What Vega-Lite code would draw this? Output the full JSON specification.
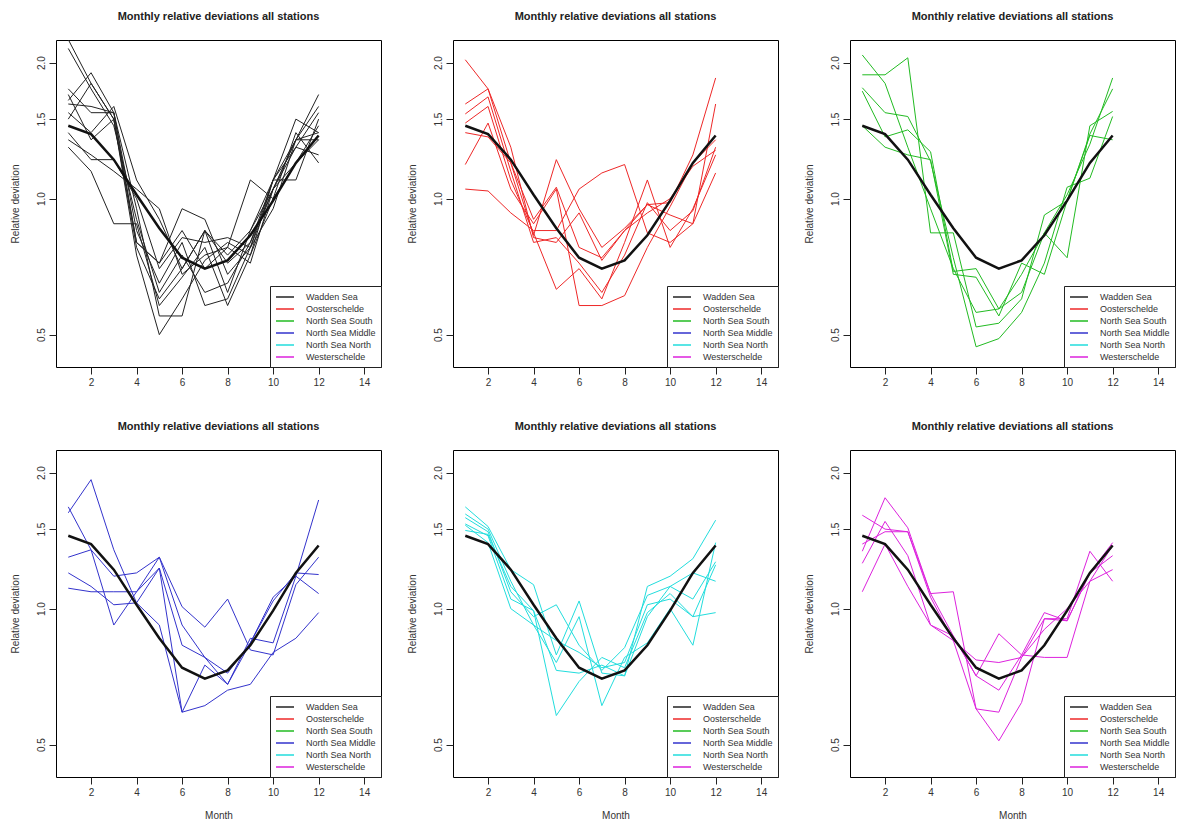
{
"$schema": "https://vega.github.io/schema/vega-lite/v6.json",
"padding": {"left": 9, "top": 10, "right": 5, "bottom": 2},
"background": "white",
"config": {
  "view": {"stroke": "black", "strokeWidth": 1},
  "font": "Liberation Sans",
  "axis": {"domain": false, "grid": false, "tickColor": "#222", "tickSize": 7, "labelFont": "Liberation Sans", "labelFontSize": 10, "labelColor": "#333", "labelPadding": 3, "titleFont": "Liberation Sans", "titleFontSize": 10, "titleFontWeight": "normal", "titleColor": "#333"},
  "title": {"font": "Liberation Sans", "fontSize": 11, "fontWeight": "bold", "anchor": "middle", "frame": "group", "offset": 18, "color": "#222"},
  "legend": {"title": null, "orient": "bottom-right", "offset": 0, "strokeColor": "#222", "fillColor": "white", "padding": 5, "symbolType": "M-1,0H2.6", "symbolStrokeWidth": 1.5, "symbolSize": 100, "labelFont": "Liberation Sans", "labelFontSize": 9, "labelColor": "#333", "rowPadding": 1, "labelOffset": 19}
},
"datasets": {
"mean": [
{"month":1,"value":1.45},{"month":2,"value":1.39},{"month":3,"value":1.22},{"month":4,"value":1.02},{"month":5,"value":0.86},{"month":6,"value":0.74},{"month":7,"value":0.70},{"month":8,"value":0.73},{"month":9,"value":0.83},{"month":10,"value":0.99},{"month":11,"value":1.2},{"month":12,"value":1.38}
],
"stations": [
{"region":"Wadden Sea","station":"W1","month":1,"value":2.15},{"region":"Wadden Sea","station":"W1","month":2,"value":1.75},{"region":"Wadden Sea","station":"W1","month":3,"value":1.45},{"region":"Wadden Sea","station":"W1","month":4,"value":0.9},{"region":"Wadden Sea","station":"W1","month":5,"value":0.62},{"region":"Wadden Sea","station":"W1","month":6,"value":0.75},{"region":"Wadden Sea","station":"W1","month":7,"value":0.62},{"region":"Wadden Sea","station":"W1","month":8,"value":0.65},{"region":"Wadden Sea","station":"W1","month":9,"value":0.8},{"region":"Wadden Sea","station":"W1","month":10,"value":1.05},{"region":"Wadden Sea","station":"W1","month":11,"value":1.3},{"region":"Wadden Sea","station":"W1","month":12,"value":1.55},
{"region":"Wadden Sea","station":"W2","month":1,"value":2.25},{"region":"Wadden Sea","station":"W2","month":2,"value":1.8},{"region":"Wadden Sea","station":"W2","month":3,"value":1.5},{"region":"Wadden Sea","station":"W2","month":4,"value":0.75},{"region":"Wadden Sea","station":"W2","month":5,"value":0.5},{"region":"Wadden Sea","station":"W2","month":6,"value":0.6},{"region":"Wadden Sea","station":"W2","month":7,"value":0.73},{"region":"Wadden Sea","station":"W2","month":8,"value":0.8},{"region":"Wadden Sea","station":"W2","month":9,"value":0.75},{"region":"Wadden Sea","station":"W2","month":10,"value":1.1},{"region":"Wadden Sea","station":"W2","month":11,"value":1.35},{"region":"Wadden Sea","station":"W2","month":12,"value":1.6},
{"region":"Wadden Sea","station":"W3","month":1,"value":1.75},{"region":"Wadden Sea","station":"W3","month":2,"value":1.55},{"region":"Wadden Sea","station":"W3","month":3,"value":1.55},{"region":"Wadden Sea","station":"W3","month":4,"value":0.95},{"region":"Wadden Sea","station":"W3","month":5,"value":0.55},{"region":"Wadden Sea","station":"W3","month":6,"value":0.55},{"region":"Wadden Sea","station":"W3","month":7,"value":0.85},{"region":"Wadden Sea","station":"W3","month":8,"value":0.62},{"region":"Wadden Sea","station":"W3","month":9,"value":0.85},{"region":"Wadden Sea","station":"W3","month":10,"value":1.05},{"region":"Wadden Sea","station":"W3","month":11,"value":1.35},{"region":"Wadden Sea","station":"W3","month":12,"value":1.7},
{"region":"Wadden Sea","station":"W4","month":1,"value":1.65},{"region":"Wadden Sea","station":"W4","month":2,"value":1.9},{"region":"Wadden Sea","station":"W4","month":3,"value":1.55},{"region":"Wadden Sea","station":"W4","month":4,"value":0.8},{"region":"Wadden Sea","station":"W4","month":5,"value":0.72},{"region":"Wadden Sea","station":"W4","month":6,"value":0.85},{"region":"Wadden Sea","station":"W4","month":7,"value":0.7},{"region":"Wadden Sea","station":"W4","month":8,"value":0.78},{"region":"Wadden Sea","station":"W4","month":9,"value":1.1},{"region":"Wadden Sea","station":"W4","month":10,"value":1.0},{"region":"Wadden Sea","station":"W4","month":11,"value":1.2},{"region":"Wadden Sea","station":"W4","month":12,"value":1.45},
{"region":"Wadden Sea","station":"W5","month":1,"value":1.55},{"region":"Wadden Sea","station":"W5","month":2,"value":1.4},{"region":"Wadden Sea","station":"W5","month":3,"value":1.6},{"region":"Wadden Sea","station":"W5","month":4,"value":1.1},{"region":"Wadden Sea","station":"W5","month":5,"value":0.9},{"region":"Wadden Sea","station":"W5","month":6,"value":0.7},{"region":"Wadden Sea","station":"W5","month":7,"value":0.85},{"region":"Wadden Sea","station":"W5","month":8,"value":0.72},{"region":"Wadden Sea","station":"W5","month":9,"value":0.8},{"region":"Wadden Sea","station":"W5","month":10,"value":1.1},{"region":"Wadden Sea","station":"W5","month":11,"value":1.5},{"region":"Wadden Sea","station":"W5","month":12,"value":1.4},
{"region":"Wadden Sea","station":"W6","month":1,"value":1.5},{"region":"Wadden Sea","station":"W6","month":2,"value":1.8},{"region":"Wadden Sea","station":"W6","month":3,"value":1.5},{"region":"Wadden Sea","station":"W6","month":4,"value":0.8},{"region":"Wadden Sea","station":"W6","month":5,"value":0.72},{"region":"Wadden Sea","station":"W6","month":6,"value":0.95},{"region":"Wadden Sea","station":"W6","month":7,"value":0.9},{"region":"Wadden Sea","station":"W6","month":8,"value":0.68},{"region":"Wadden Sea","station":"W6","month":9,"value":0.78},{"region":"Wadden Sea","station":"W6","month":10,"value":1.05},{"region":"Wadden Sea","station":"W6","month":11,"value":1.2},{"region":"Wadden Sea","station":"W6","month":12,"value":1.35},
{"region":"Wadden Sea","station":"W7","month":1,"value":1.4},{"region":"Wadden Sea","station":"W7","month":2,"value":1.22},{"region":"Wadden Sea","station":"W7","month":3,"value":1.22},{"region":"Wadden Sea","station":"W7","month":4,"value":1.0},{"region":"Wadden Sea","station":"W7","month":5,"value":0.7},{"region":"Wadden Sea","station":"W7","month":6,"value":0.82},{"region":"Wadden Sea","station":"W7","month":7,"value":0.8},{"region":"Wadden Sea","station":"W7","month":8,"value":0.82},{"region":"Wadden Sea","station":"W7","month":9,"value":0.78},{"region":"Wadden Sea","station":"W7","month":10,"value":1.1},{"region":"Wadden Sea","station":"W7","month":11,"value":1.1},{"region":"Wadden Sea","station":"W7","month":12,"value":1.5},
{"region":"Wadden Sea","station":"W8","month":1,"value":1.3},{"region":"Wadden Sea","station":"W8","month":2,"value":1.15},{"region":"Wadden Sea","station":"W8","month":3,"value":0.88},{"region":"Wadden Sea","station":"W8","month":4,"value":0.88},{"region":"Wadden Sea","station":"W8","month":5,"value":0.58},{"region":"Wadden Sea","station":"W8","month":6,"value":0.67},{"region":"Wadden Sea","station":"W8","month":7,"value":0.78},{"region":"Wadden Sea","station":"W8","month":8,"value":0.58},{"region":"Wadden Sea","station":"W8","month":9,"value":0.75},{"region":"Wadden Sea","station":"W8","month":10,"value":1.0},{"region":"Wadden Sea","station":"W8","month":11,"value":1.4},{"region":"Wadden Sea","station":"W8","month":12,"value":1.2},
{"region":"Wadden Sea","station":"W9","month":1,"value":1.62},{"region":"Wadden Sea","station":"W9","month":2,"value":1.6},{"region":"Wadden Sea","station":"W9","month":3,"value":1.55},{"region":"Wadden Sea","station":"W9","month":4,"value":0.85},{"region":"Wadden Sea","station":"W9","month":5,"value":0.65},{"region":"Wadden Sea","station":"W9","month":6,"value":0.8},{"region":"Wadden Sea","station":"W9","month":7,"value":0.58},{"region":"Wadden Sea","station":"W9","month":8,"value":0.6},{"region":"Wadden Sea","station":"W9","month":9,"value":0.78},{"region":"Wadden Sea","station":"W9","month":10,"value":0.95},{"region":"Wadden Sea","station":"W9","month":11,"value":1.35},{"region":"Wadden Sea","station":"W9","month":12,"value":1.35},
{"region":"Wadden Sea","station":"W10","month":1,"value":1.7},{"region":"Wadden Sea","station":"W10","month":2,"value":1.35},{"region":"Wadden Sea","station":"W10","month":3,"value":1.5},{"region":"Wadden Sea","station":"W10","month":4,"value":0.78},{"region":"Wadden Sea","station":"W10","month":5,"value":0.6},{"region":"Wadden Sea","station":"W10","month":6,"value":0.7},{"region":"Wadden Sea","station":"W10","month":7,"value":0.85},{"region":"Wadden Sea","station":"W10","month":8,"value":0.75},{"region":"Wadden Sea","station":"W10","month":9,"value":0.85},{"region":"Wadden Sea","station":"W10","month":10,"value":1.1},{"region":"Wadden Sea","station":"W10","month":11,"value":1.3},{"region":"Wadden Sea","station":"W10","month":12,"value":1.25},
{"region":"Wadden Sea","station":"W11","month":1,"value":1.35},{"region":"Wadden Sea","station":"W11","month":2,"value":1.25},{"region":"Wadden Sea","station":"W11","month":3,"value":1.15},{"region":"Wadden Sea","station":"W11","month":4,"value":1.05},{"region":"Wadden Sea","station":"W11","month":5,"value":0.95},{"region":"Wadden Sea","station":"W11","month":6,"value":0.68},{"region":"Wadden Sea","station":"W11","month":7,"value":0.75},{"region":"Wadden Sea","station":"W11","month":8,"value":0.78},{"region":"Wadden Sea","station":"W11","month":9,"value":0.72},{"region":"Wadden Sea","station":"W11","month":10,"value":1.05},{"region":"Wadden Sea","station":"W11","month":11,"value":1.35},{"region":"Wadden Sea","station":"W11","month":12,"value":1.4},
{"region":"Oosterschelde","station":"O1","month":1,"value":2.03},{"region":"Oosterschelde","station":"O1","month":2,"value":1.75},{"region":"Oosterschelde","station":"O1","month":3,"value":1.3},{"region":"Oosterschelde","station":"O1","month":4,"value":0.82},{"region":"Oosterschelde","station":"O1","month":5,"value":0.8},{"region":"Oosterschelde","station":"O1","month":6,"value":0.93},{"region":"Oosterschelde","station":"O1","month":7,"value":0.73},{"region":"Oosterschelde","station":"O1","month":8,"value":0.85},{"region":"Oosterschelde","station":"O1","month":9,"value":0.97},{"region":"Oosterschelde","station":"O1","month":10,"value":0.98},{"region":"Oosterschelde","station":"O1","month":11,"value":1.25},{"region":"Oosterschelde","station":"O1","month":12,"value":1.85},
{"region":"Oosterschelde","station":"O2","month":1,"value":1.62},{"region":"Oosterschelde","station":"O2","month":2,"value":1.75},{"region":"Oosterschelde","station":"O2","month":3,"value":1.2},{"region":"Oosterschelde","station":"O2","month":4,"value":0.83},{"region":"Oosterschelde","station":"O2","month":5,"value":1.22},{"region":"Oosterschelde","station":"O2","month":6,"value":0.95},{"region":"Oosterschelde","station":"O2","month":7,"value":0.78},{"region":"Oosterschelde","station":"O2","month":8,"value":0.86},{"region":"Oosterschelde","station":"O2","month":9,"value":0.97},{"region":"Oosterschelde","station":"O2","month":10,"value":0.92},{"region":"Oosterschelde","station":"O2","month":11,"value":0.88},{"region":"Oosterschelde","station":"O2","month":12,"value":1.62},
{"region":"Oosterschelde","station":"O3","month":1,"value":1.54},{"region":"Oosterschelde","station":"O3","month":2,"value":1.68},{"region":"Oosterschelde","station":"O3","month":3,"value":1.15},{"region":"Oosterschelde","station":"O3","month":4,"value":0.8},{"region":"Oosterschelde","station":"O3","month":5,"value":0.82},{"region":"Oosterschelde","station":"O3","month":6,"value":0.72},{"region":"Oosterschelde","station":"O3","month":7,"value":0.62},{"region":"Oosterschelde","station":"O3","month":8,"value":0.75},{"region":"Oosterschelde","station":"O3","month":9,"value":0.98},{"region":"Oosterschelde","station":"O3","month":10,"value":0.85},{"region":"Oosterschelde","station":"O3","month":11,"value":0.94},{"region":"Oosterschelde","station":"O3","month":12,"value":1.3},
{"region":"Oosterschelde","station":"O4","month":1,"value":1.47},{"region":"Oosterschelde","station":"O4","month":2,"value":1.6},{"region":"Oosterschelde","station":"O4","month":3,"value":1.1},{"region":"Oosterschelde","station":"O4","month":4,"value":0.84},{"region":"Oosterschelde","station":"O4","month":5,"value":0.63},{"region":"Oosterschelde","station":"O4","month":6,"value":0.7},{"region":"Oosterschelde","station":"O4","month":7,"value":0.6},{"region":"Oosterschelde","station":"O4","month":8,"value":0.8},{"region":"Oosterschelde","station":"O4","month":9,"value":1.1},{"region":"Oosterschelde","station":"O4","month":10,"value":0.78},{"region":"Oosterschelde","station":"O4","month":11,"value":0.95},{"region":"Oosterschelde","station":"O4","month":12,"value":1.25},
{"region":"Oosterschelde","station":"O5","month":1,"value":1.19},{"region":"Oosterschelde","station":"O5","month":2,"value":1.47},{"region":"Oosterschelde","station":"O5","month":3,"value":1.05},{"region":"Oosterschelde","station":"O5","month":4,"value":0.88},{"region":"Oosterschelde","station":"O5","month":5,"value":1.05},{"region":"Oosterschelde","station":"O5","month":6,"value":0.58},{"region":"Oosterschelde","station":"O5","month":7,"value":0.58},{"region":"Oosterschelde","station":"O5","month":8,"value":0.61},{"region":"Oosterschelde","station":"O5","month":9,"value":0.78},{"region":"Oosterschelde","station":"O5","month":10,"value":0.96},{"region":"Oosterschelde","station":"O5","month":11,"value":1.2},{"region":"Oosterschelde","station":"O5","month":12,"value":1.35},
{"region":"Oosterschelde","station":"O6","month":1,"value":1.05},{"region":"Oosterschelde","station":"O6","month":2,"value":1.04},{"region":"Oosterschelde","station":"O6","month":3,"value":0.93},{"region":"Oosterschelde","station":"O6","month":4,"value":0.85},{"region":"Oosterschelde","station":"O6","month":5,"value":0.85},{"region":"Oosterschelde","station":"O6","month":6,"value":1.05},{"region":"Oosterschelde","station":"O6","month":7,"value":1.14},{"region":"Oosterschelde","station":"O6","month":8,"value":1.19},{"region":"Oosterschelde","station":"O6","month":9,"value":0.84},{"region":"Oosterschelde","station":"O6","month":10,"value":0.8},{"region":"Oosterschelde","station":"O6","month":11,"value":0.88},{"region":"Oosterschelde","station":"O6","month":12,"value":1.14},
{"region":"Oosterschelde","station":"O7","month":1,"value":1.4},{"region":"Oosterschelde","station":"O7","month":2,"value":1.37},{"region":"Oosterschelde","station":"O7","month":3,"value":1.2},{"region":"Oosterschelde","station":"O7","month":4,"value":0.9},{"region":"Oosterschelde","station":"O7","month":5,"value":1.06},{"region":"Oosterschelde","station":"O7","month":6,"value":0.78},{"region":"Oosterschelde","station":"O7","month":7,"value":0.74},{"region":"Oosterschelde","station":"O7","month":8,"value":0.85},{"region":"Oosterschelde","station":"O7","month":9,"value":0.93},{"region":"Oosterschelde","station":"O7","month":10,"value":1.0},{"region":"Oosterschelde","station":"O7","month":11,"value":1.18},{"region":"Oosterschelde","station":"O7","month":12,"value":1.28},
{"region":"North Sea South","station":"S1","month":1,"value":2.08},{"region":"North Sea South","station":"S1","month":2,"value":1.8},{"region":"North Sea South","station":"S1","month":3,"value":1.3},{"region":"North Sea South","station":"S1","month":4,"value":0.95},{"region":"North Sea South","station":"S1","month":5,"value":0.7},{"region":"North Sea South","station":"S1","month":6,"value":0.56},{"region":"North Sea South","station":"S1","month":7,"value":0.57},{"region":"North Sea South","station":"S1","month":8,"value":0.68},{"region":"North Sea South","station":"S1","month":9,"value":0.84},{"region":"North Sea South","station":"S1","month":10,"value":1.02},{"region":"North Sea South","station":"S1","month":11,"value":1.32},{"region":"North Sea South","station":"S1","month":12,"value":1.85},
{"region":"North Sea South","station":"S2","month":1,"value":1.88},{"region":"North Sea South","station":"S2","month":2,"value":1.88},{"region":"North Sea South","station":"S2","month":3,"value":2.05},{"region":"North Sea South","station":"S2","month":4,"value":0.84},{"region":"North Sea South","station":"S2","month":5,"value":0.84},{"region":"North Sea South","station":"S2","month":6,"value":0.52},{"region":"North Sea South","station":"S2","month":7,"value":0.53},{"region":"North Sea South","station":"S2","month":8,"value":0.6},{"region":"North Sea South","station":"S2","month":9,"value":0.92},{"region":"North Sea South","station":"S2","month":10,"value":0.99},{"region":"North Sea South","station":"S2","month":11,"value":1.39},{"region":"North Sea South","station":"S2","month":12,"value":1.75},
{"region":"North Sea South","station":"S3","month":1,"value":1.76},{"region":"North Sea South","station":"S3","month":2,"value":1.55},{"region":"North Sea South","station":"S3","month":3,"value":1.52},{"region":"North Sea South","station":"S3","month":4,"value":1.21},{"region":"North Sea South","station":"S3","month":5,"value":0.74},{"region":"North Sea South","station":"S3","month":6,"value":0.47},{"region":"North Sea South","station":"S3","month":7,"value":0.49},{"region":"North Sea South","station":"S3","month":8,"value":0.56},{"region":"North Sea South","station":"S3","month":9,"value":0.72},{"region":"North Sea South","station":"S3","month":10,"value":1.06},{"region":"North Sea South","station":"S3","month":11,"value":1.11},{"region":"North Sea South","station":"S3","month":12,"value":1.52},
{"region":"North Sea South","station":"S4","month":1,"value":1.73},{"region":"North Sea South","station":"S4","month":2,"value":1.37},{"region":"North Sea South","station":"S4","month":3,"value":1.42},{"region":"North Sea South","station":"S4","month":4,"value":1.27},{"region":"North Sea South","station":"S4","month":5,"value":0.69},{"region":"North Sea South","station":"S4","month":6,"value":0.7},{"region":"North Sea South","station":"S4","month":7,"value":0.57},{"region":"North Sea South","station":"S4","month":8,"value":0.62},{"region":"North Sea South","station":"S4","month":9,"value":0.84},{"region":"North Sea South","station":"S4","month":10,"value":0.74},{"region":"North Sea South","station":"S4","month":11,"value":1.45},{"region":"North Sea South","station":"S4","month":12,"value":1.56},
{"region":"North Sea South","station":"S5","month":1,"value":1.45},{"region":"North Sea South","station":"S5","month":2,"value":1.3},{"region":"North Sea South","station":"S5","month":3,"value":1.25},{"region":"North Sea South","station":"S5","month":4,"value":1.22},{"region":"North Sea South","station":"S5","month":5,"value":0.68},{"region":"North Sea South","station":"S5","month":6,"value":0.67},{"region":"North Sea South","station":"S5","month":7,"value":0.55},{"region":"North Sea South","station":"S5","month":8,"value":0.72},{"region":"North Sea South","station":"S5","month":9,"value":0.68},{"region":"North Sea South","station":"S5","month":10,"value":0.99},{"region":"North Sea South","station":"S5","month":11,"value":1.38},{"region":"North Sea South","station":"S5","month":12,"value":1.35},
{"region":"North Sea Middle","station":"M1","month":1,"value":1.68},{"region":"North Sea Middle","station":"M1","month":2,"value":1.35},{"region":"North Sea Middle","station":"M1","month":3,"value":1.18},{"region":"North Sea Middle","station":"M1","month":4,"value":1.2},{"region":"North Sea Middle","station":"M1","month":5,"value":1.3},{"region":"North Sea Middle","station":"M1","month":6,"value":0.92},{"region":"North Sea Middle","station":"M1","month":7,"value":0.78},{"region":"North Sea Middle","station":"M1","month":8,"value":0.72},{"region":"North Sea Middle","station":"M1","month":9,"value":0.84},{"region":"North Sea Middle","station":"M1","month":10,"value":1.06},{"region":"North Sea Middle","station":"M1","month":11,"value":1.18},{"region":"North Sea Middle","station":"M1","month":12,"value":1.74},
{"region":"North Sea Middle","station":"M2","month":1,"value":1.63},{"region":"North Sea Middle","station":"M2","month":2,"value":1.93},{"region":"North Sea Middle","station":"M2","month":3,"value":1.35},{"region":"North Sea Middle","station":"M2","month":4,"value":1.03},{"region":"North Sea Middle","station":"M2","month":5,"value":0.92},{"region":"North Sea Middle","station":"M2","month":6,"value":0.59},{"region":"North Sea Middle","station":"M2","month":7,"value":0.75},{"region":"North Sea Middle","station":"M2","month":8,"value":0.68},{"region":"North Sea Middle","station":"M2","month":9,"value":0.84},{"region":"North Sea Middle","station":"M2","month":10,"value":1.04},{"region":"North Sea Middle","station":"M2","month":11,"value":1.2},{"region":"North Sea Middle","station":"M2","month":12,"value":1.19},
{"region":"North Sea Middle","station":"M3","month":1,"value":1.3},{"region":"North Sea Middle","station":"M3","month":2,"value":1.35},{"region":"North Sea Middle","station":"M3","month":3,"value":0.92},{"region":"North Sea Middle","station":"M3","month":4,"value":1.09},{"region":"North Sea Middle","station":"M3","month":5,"value":1.23},{"region":"North Sea Middle","station":"M3","month":6,"value":0.59},{"region":"North Sea Middle","station":"M3","month":7,"value":0.61},{"region":"North Sea Middle","station":"M3","month":8,"value":0.66},{"region":"North Sea Middle","station":"M3","month":9,"value":0.68},{"region":"North Sea Middle","station":"M3","month":10,"value":0.8},{"region":"North Sea Middle","station":"M3","month":11,"value":0.86},{"region":"North Sea Middle","station":"M3","month":12,"value":0.98},
{"region":"North Sea Middle","station":"M4","month":1,"value":1.2},{"region":"North Sea Middle","station":"M4","month":2,"value":1.12},{"region":"North Sea Middle","station":"M4","month":3,"value":1.02},{"region":"North Sea Middle","station":"M4","month":4,"value":1.03},{"region":"North Sea Middle","station":"M4","month":5,"value":1.23},{"region":"North Sea Middle","station":"M4","month":6,"value":0.83},{"region":"North Sea Middle","station":"M4","month":7,"value":0.78},{"region":"North Sea Middle","station":"M4","month":8,"value":0.68},{"region":"North Sea Middle","station":"M4","month":9,"value":0.86},{"region":"North Sea Middle","station":"M4","month":10,"value":0.84},{"region":"North Sea Middle","station":"M4","month":11,"value":1.18},{"region":"North Sea Middle","station":"M4","month":12,"value":1.08},
{"region":"North Sea Middle","station":"M5","month":1,"value":1.11},{"region":"North Sea Middle","station":"M5","month":2,"value":1.09},{"region":"North Sea Middle","station":"M5","month":3,"value":1.09},{"region":"North Sea Middle","station":"M5","month":4,"value":1.09},{"region":"North Sea Middle","station":"M5","month":5,"value":1.3},{"region":"North Sea Middle","station":"M5","month":6,"value":1.01},{"region":"North Sea Middle","station":"M5","month":7,"value":0.91},{"region":"North Sea Middle","station":"M5","month":8,"value":1.05},{"region":"North Sea Middle","station":"M5","month":9,"value":0.81},{"region":"North Sea Middle","station":"M5","month":10,"value":0.79},{"region":"North Sea Middle","station":"M5","month":11,"value":1.13},{"region":"North Sea Middle","station":"M5","month":12,"value":1.3},
{"region":"North Sea North","station":"N1","month":1,"value":1.68},{"region":"North Sea North","station":"N1","month":2,"value":1.52},{"region":"North Sea North","station":"N1","month":3,"value":1.22},{"region":"North Sea North","station":"N1","month":4,"value":1.13},{"region":"North Sea North","station":"N1","month":5,"value":0.79},{"region":"North Sea North","station":"N1","month":6,"value":1.04},{"region":"North Sea North","station":"N1","month":7,"value":0.72},{"region":"North Sea North","station":"N1","month":8,"value":0.71},{"region":"North Sea North","station":"N1","month":9,"value":1.12},{"region":"North Sea North","station":"N1","month":10,"value":1.18},{"region":"North Sea North","station":"N1","month":11,"value":1.29},{"region":"North Sea North","station":"N1","month":12,"value":1.57},
{"region":"North Sea North","station":"N2","month":1,"value":1.59},{"region":"North Sea North","station":"N2","month":2,"value":1.48},{"region":"North Sea North","station":"N2","month":3,"value":1.09},{"region":"North Sea North","station":"N2","month":4,"value":0.96},{"region":"North Sea North","station":"N2","month":5,"value":1.02},{"region":"North Sea North","station":"N2","month":6,"value":0.83},{"region":"North Sea North","station":"N2","month":7,"value":0.73},{"region":"North Sea North","station":"N2","month":8,"value":0.82},{"region":"North Sea North","station":"N2","month":9,"value":1.07},{"region":"North Sea North","station":"N2","month":10,"value":1.12},{"region":"North Sea North","station":"N2","month":11,"value":1.05},{"region":"North Sea North","station":"N2","month":12,"value":1.27},
{"region":"North Sea North","station":"N3","month":1,"value":1.54},{"region":"North Sea North","station":"N3","month":2,"value":1.45},{"region":"North Sea North","station":"N3","month":3,"value":1.05},{"region":"North Sea North","station":"N3","month":4,"value":0.99},{"region":"North Sea North","station":"N3","month":5,"value":0.58},{"region":"North Sea North","station":"N3","month":6,"value":0.69},{"region":"North Sea North","station":"N3","month":7,"value":0.78},{"region":"North Sea North","station":"N3","month":8,"value":0.74},{"region":"North Sea North","station":"N3","month":9,"value":0.98},{"region":"North Sea North","station":"N3","month":10,"value":1.08},{"region":"North Sea North","station":"N3","month":11,"value":0.96},{"region":"North Sea North","station":"N3","month":12,"value":0.98},
{"region":"North Sea North","station":"N4","month":1,"value":1.53},{"region":"North Sea North","station":"N4","month":2,"value":1.4},{"region":"North Sea North","station":"N4","month":3,"value":1.0},{"region":"North Sea North","station":"N4","month":4,"value":0.92},{"region":"North Sea North","station":"N4","month":5,"value":0.76},{"region":"North Sea North","station":"N4","month":6,"value":0.96},{"region":"North Sea North","station":"N4","month":7,"value":0.61},{"region":"North Sea North","station":"N4","month":8,"value":0.78},{"region":"North Sea North","station":"N4","month":9,"value":0.84},{"region":"North Sea North","station":"N4","month":10,"value":1.0},{"region":"North Sea North","station":"N4","month":11,"value":0.83},{"region":"North Sea North","station":"N4","month":12,"value":1.4},
{"region":"North Sea North","station":"N5","month":1,"value":1.49},{"region":"North Sea North","station":"N5","month":2,"value":1.46},{"region":"North Sea North","station":"N5","month":3,"value":1.12},{"region":"North Sea North","station":"N5","month":4,"value":0.99},{"region":"North Sea North","station":"N5","month":5,"value":0.73},{"region":"North Sea North","station":"N5","month":6,"value":0.72},{"region":"North Sea North","station":"N5","month":7,"value":0.75},{"region":"North Sea North","station":"N5","month":8,"value":0.71},{"region":"North Sea North","station":"N5","month":9,"value":0.96},{"region":"North Sea North","station":"N5","month":10,"value":1.12},{"region":"North Sea North","station":"N5","month":11,"value":1.2},{"region":"North Sea North","station":"N5","month":12,"value":1.15},
{"region":"North Sea North","station":"N6","month":1,"value":1.62},{"region":"North Sea North","station":"N6","month":2,"value":1.5},{"region":"North Sea North","station":"N6","month":3,"value":1.15},{"region":"North Sea North","station":"N6","month":4,"value":0.92},{"region":"North Sea North","station":"N6","month":5,"value":0.85},{"region":"North Sea North","station":"N6","month":6,"value":0.8},{"region":"North Sea North","station":"N6","month":7,"value":0.74},{"region":"North Sea North","station":"N6","month":8,"value":0.76},{"region":"North Sea North","station":"N6","month":9,"value":1.02},{"region":"North Sea North","station":"N6","month":10,"value":1.05},{"region":"North Sea North","station":"N6","month":11,"value":0.96},{"region":"North Sea North","station":"N6","month":12,"value":1.25},
{"region":"Westerschelde","station":"E1","month":1,"value":1.61},{"region":"Westerschelde","station":"E1","month":2,"value":1.5},{"region":"Westerschelde","station":"E1","month":3,"value":1.48},{"region":"Westerschelde","station":"E1","month":4,"value":1.08},{"region":"Westerschelde","station":"E1","month":5,"value":0.87},{"region":"Westerschelde","station":"E1","month":6,"value":0.71},{"region":"Westerschelde","station":"E1","month":7,"value":0.66},{"region":"Westerschelde","station":"E1","month":8,"value":0.79},{"region":"Westerschelde","station":"E1","month":9,"value":0.98},{"region":"Westerschelde","station":"E1","month":10,"value":0.94},{"region":"Westerschelde","station":"E1","month":11,"value":1.2},{"region":"Westerschelde","station":"E1","month":12,"value":1.4},
{"region":"Westerschelde","station":"E2","month":1,"value":1.34},{"region":"Westerschelde","station":"E2","month":2,"value":1.76},{"region":"Westerschelde","station":"E2","month":3,"value":1.51},{"region":"Westerschelde","station":"E2","month":4,"value":1.08},{"region":"Westerschelde","station":"E2","month":5,"value":1.09},{"region":"Westerschelde","station":"E2","month":6,"value":0.6},{"region":"Westerschelde","station":"E2","month":7,"value":0.59},{"region":"Westerschelde","station":"E2","month":8,"value":0.78},{"region":"Westerschelde","station":"E2","month":9,"value":0.95},{"region":"Westerschelde","station":"E2","month":10,"value":0.95},{"region":"Westerschelde","station":"E2","month":11,"value":1.34},{"region":"Westerschelde","station":"E2","month":12,"value":1.15},
{"region":"Westerschelde","station":"E3","month":1,"value":1.26},{"region":"Westerschelde","station":"E3","month":2,"value":1.56},{"region":"Westerschelde","station":"E3","month":3,"value":1.31},{"region":"Westerschelde","station":"E3","month":4,"value":0.92},{"region":"Westerschelde","station":"E3","month":5,"value":0.87},{"region":"Westerschelde","station":"E3","month":6,"value":0.71},{"region":"Westerschelde","station":"E3","month":7,"value":0.88},{"region":"Westerschelde","station":"E3","month":8,"value":0.79},{"region":"Westerschelde","station":"E3","month":9,"value":0.78},{"region":"Westerschelde","station":"E3","month":10,"value":0.78},{"region":"Westerschelde","station":"E3","month":11,"value":1.15},{"region":"Westerschelde","station":"E3","month":12,"value":1.22},
{"region":"Westerschelde","station":"E4","month":1,"value":1.09},{"region":"Westerschelde","station":"E4","month":2,"value":1.39},{"region":"Westerschelde","station":"E4","month":3,"value":1.12},{"region":"Westerschelde","station":"E4","month":4,"value":0.92},{"region":"Westerschelde","station":"E4","month":5,"value":0.85},{"region":"Westerschelde","station":"E4","month":6,"value":0.6},{"region":"Westerschelde","station":"E4","month":7,"value":0.51},{"region":"Westerschelde","station":"E4","month":8,"value":0.62},{"region":"Westerschelde","station":"E4","month":9,"value":0.95},{"region":"Westerschelde","station":"E4","month":10,"value":0.94},{"region":"Westerschelde","station":"E4","month":11,"value":1.2},{"region":"Westerschelde","station":"E4","month":12,"value":1.31},
{"region":"Westerschelde","station":"E5","month":1,"value":1.39},{"region":"Westerschelde","station":"E5","month":2,"value":1.48},{"region":"Westerschelde","station":"E5","month":3,"value":1.48},{"region":"Westerschelde","station":"E5","month":4,"value":1.06},{"region":"Westerschelde","station":"E5","month":5,"value":0.85},{"region":"Westerschelde","station":"E5","month":6,"value":0.77},{"region":"Westerschelde","station":"E5","month":7,"value":0.76},{"region":"Westerschelde","station":"E5","month":8,"value":0.78},{"region":"Westerschelde","station":"E5","month":9,"value":0.9},{"region":"Westerschelde","station":"E5","month":10,"value":1.0},{"region":"Westerschelde","station":"E5","month":11,"value":1.15},{"region":"Westerschelde","station":"E5","month":12,"value":1.38}
]
},
"columns": 3,
"bounds": "flush",
"spacing": {"row": 83, "column": 72},
"resolve": {"scale": {"color": "independent", "x": "independent", "y": "independent"}, "legend": {"color": "independent"}},
"concat": [
{"width": 325, "height": 327, "title": "Monthly relative deviations all stations",
 "layer": [
  {"data": {"name": "stations"}, "transform": [{"filter": "datum.region == 'Wadden Sea'"}],
   "mark": {"type": "line", "strokeWidth": 1, "clip": true},
   "encoding": {
    "x": {"field": "month", "type": "quantitative", "scale": {"domain": [0.46, 14.74], "nice": false, "zero": false}, "axis": {"values": [2,4,6,8,10,12,14], "title": null}},
    "y": {"field": "value", "type": "quantitative", "scale": {"type": "log", "domain": [0.424, 2.245], "nice": false}, "axis": {"values": [0.5,1,1.5,2], "format": ".1f", "labelAngle": -90, "labelAlign": "center", "labelBaseline": "bottom", "title": "Relative deviation", "titlePadding": 16}},
    "color": {"field": "region", "type": "nominal", "scale": {"domain": ["Wadden Sea","Oosterschelde","North Sea South","North Sea Middle","North Sea North","Westerschelde"], "range": ["#222222","#EE2828","#22BB22","#3333CC","#22DDDD","#DD22DD"]}},
    "detail": {"field": "station", "type": "nominal"}}},
  {"data": {"name": "mean"}, "mark": {"type": "line", "strokeWidth": 2.5, "color": "#111"},
   "encoding": {"x": {"field": "month", "type": "quantitative"}, "y": {"field": "value", "type": "quantitative"}}}
 ]},
{"width": 325, "height": 327, "title": "Monthly relative deviations all stations",
 "layer": [
  {"data": {"name": "stations"}, "transform": [{"filter": "datum.region == 'Oosterschelde'"}],
   "mark": {"type": "line", "strokeWidth": 1, "clip": true},
   "encoding": {
    "x": {"field": "month", "type": "quantitative", "scale": {"domain": [0.46, 14.74], "nice": false, "zero": false}, "axis": {"values": [2,4,6,8,10,12,14], "title": null}},
    "y": {"field": "value", "type": "quantitative", "scale": {"type": "log", "domain": [0.424, 2.245], "nice": false}, "axis": {"values": [0.5,1,1.5,2], "format": ".1f", "labelAngle": -90, "labelAlign": "center", "labelBaseline": "bottom", "title": "Relative deviation", "titlePadding": 16}},
    "color": {"field": "region", "type": "nominal", "scale": {"domain": ["Wadden Sea","Oosterschelde","North Sea South","North Sea Middle","North Sea North","Westerschelde"], "range": ["#222222","#EE2828","#22BB22","#3333CC","#22DDDD","#DD22DD"]}},
    "detail": {"field": "station", "type": "nominal"}}},
  {"data": {"name": "mean"}, "mark": {"type": "line", "strokeWidth": 2.5, "color": "#111"},
   "encoding": {"x": {"field": "month", "type": "quantitative"}, "y": {"field": "value", "type": "quantitative"}}}
 ]},
{"width": 325, "height": 327, "title": "Monthly relative deviations all stations",
 "layer": [
  {"data": {"name": "stations"}, "transform": [{"filter": "datum.region == 'North Sea South'"}],
   "mark": {"type": "line", "strokeWidth": 1, "clip": true},
   "encoding": {
    "x": {"field": "month", "type": "quantitative", "scale": {"domain": [0.46, 14.74], "nice": false, "zero": false}, "axis": {"values": [2,4,6,8,10,12,14], "title": null}},
    "y": {"field": "value", "type": "quantitative", "scale": {"type": "log", "domain": [0.424, 2.245], "nice": false}, "axis": {"values": [0.5,1,1.5,2], "format": ".1f", "labelAngle": -90, "labelAlign": "center", "labelBaseline": "bottom", "title": "Relative deviation", "titlePadding": 16}},
    "color": {"field": "region", "type": "nominal", "scale": {"domain": ["Wadden Sea","Oosterschelde","North Sea South","North Sea Middle","North Sea North","Westerschelde"], "range": ["#222222","#EE2828","#22BB22","#3333CC","#22DDDD","#DD22DD"]}},
    "detail": {"field": "station", "type": "nominal"}}},
  {"data": {"name": "mean"}, "mark": {"type": "line", "strokeWidth": 2.5, "color": "#111"},
   "encoding": {"x": {"field": "month", "type": "quantitative"}, "y": {"field": "value", "type": "quantitative"}}}
 ]},
{"width": 325, "height": 327, "title": "Monthly relative deviations all stations",
 "layer": [
  {"data": {"name": "stations"}, "transform": [{"filter": "datum.region == 'North Sea Middle'"}],
   "mark": {"type": "line", "strokeWidth": 1, "clip": true},
   "encoding": {
    "x": {"field": "month", "type": "quantitative", "scale": {"domain": [0.46, 14.74], "nice": false, "zero": false}, "axis": {"values": [2,4,6,8,10,12,14], "title": "Month", "titlePadding": 13}},
    "y": {"field": "value", "type": "quantitative", "scale": {"type": "log", "domain": [0.424, 2.245], "nice": false}, "axis": {"values": [0.5,1,1.5,2], "format": ".1f", "labelAngle": -90, "labelAlign": "center", "labelBaseline": "bottom", "title": "Relative deviation", "titlePadding": 16}},
    "color": {"field": "region", "type": "nominal", "scale": {"domain": ["Wadden Sea","Oosterschelde","North Sea South","North Sea Middle","North Sea North","Westerschelde"], "range": ["#222222","#EE2828","#22BB22","#3333CC","#22DDDD","#DD22DD"]}},
    "detail": {"field": "station", "type": "nominal"}}},
  {"data": {"name": "mean"}, "mark": {"type": "line", "strokeWidth": 2.5, "color": "#111"},
   "encoding": {"x": {"field": "month", "type": "quantitative"}, "y": {"field": "value", "type": "quantitative"}}}
 ]},
{"width": 325, "height": 327, "title": "Monthly relative deviations all stations",
 "layer": [
  {"data": {"name": "stations"}, "transform": [{"filter": "datum.region == 'North Sea North'"}],
   "mark": {"type": "line", "strokeWidth": 1, "clip": true},
   "encoding": {
    "x": {"field": "month", "type": "quantitative", "scale": {"domain": [0.46, 14.74], "nice": false, "zero": false}, "axis": {"values": [2,4,6,8,10,12,14], "title": "Month", "titlePadding": 13}},
    "y": {"field": "value", "type": "quantitative", "scale": {"type": "log", "domain": [0.424, 2.245], "nice": false}, "axis": {"values": [0.5,1,1.5,2], "format": ".1f", "labelAngle": -90, "labelAlign": "center", "labelBaseline": "bottom", "title": "Relative deviation", "titlePadding": 16}},
    "color": {"field": "region", "type": "nominal", "scale": {"domain": ["Wadden Sea","Oosterschelde","North Sea South","North Sea Middle","North Sea North","Westerschelde"], "range": ["#222222","#EE2828","#22BB22","#3333CC","#22DDDD","#DD22DD"]}},
    "detail": {"field": "station", "type": "nominal"}}},
  {"data": {"name": "mean"}, "mark": {"type": "line", "strokeWidth": 2.5, "color": "#111"},
   "encoding": {"x": {"field": "month", "type": "quantitative"}, "y": {"field": "value", "type": "quantitative"}}}
 ]},
{"width": 325, "height": 327, "title": "Monthly relative deviations all stations",
 "layer": [
  {"data": {"name": "stations"}, "transform": [{"filter": "datum.region == 'Westerschelde'"}],
   "mark": {"type": "line", "strokeWidth": 1, "clip": true},
   "encoding": {
    "x": {"field": "month", "type": "quantitative", "scale": {"domain": [0.46, 14.74], "nice": false, "zero": false}, "axis": {"values": [2,4,6,8,10,12,14], "title": "Month", "titlePadding": 13}},
    "y": {"field": "value", "type": "quantitative", "scale": {"type": "log", "domain": [0.424, 2.245], "nice": false}, "axis": {"values": [0.5,1,1.5,2], "format": ".1f", "labelAngle": -90, "labelAlign": "center", "labelBaseline": "bottom", "title": "Relative deviation", "titlePadding": 16}},
    "color": {"field": "region", "type": "nominal", "scale": {"domain": ["Wadden Sea","Oosterschelde","North Sea South","North Sea Middle","North Sea North","Westerschelde"], "range": ["#222222","#EE2828","#22BB22","#3333CC","#22DDDD","#DD22DD"]}},
    "detail": {"field": "station", "type": "nominal"}}},
  {"data": {"name": "mean"}, "mark": {"type": "line", "strokeWidth": 2.5, "color": "#111"},
   "encoding": {"x": {"field": "month", "type": "quantitative"}, "y": {"field": "value", "type": "quantitative"}}}
 ]}
]
}
